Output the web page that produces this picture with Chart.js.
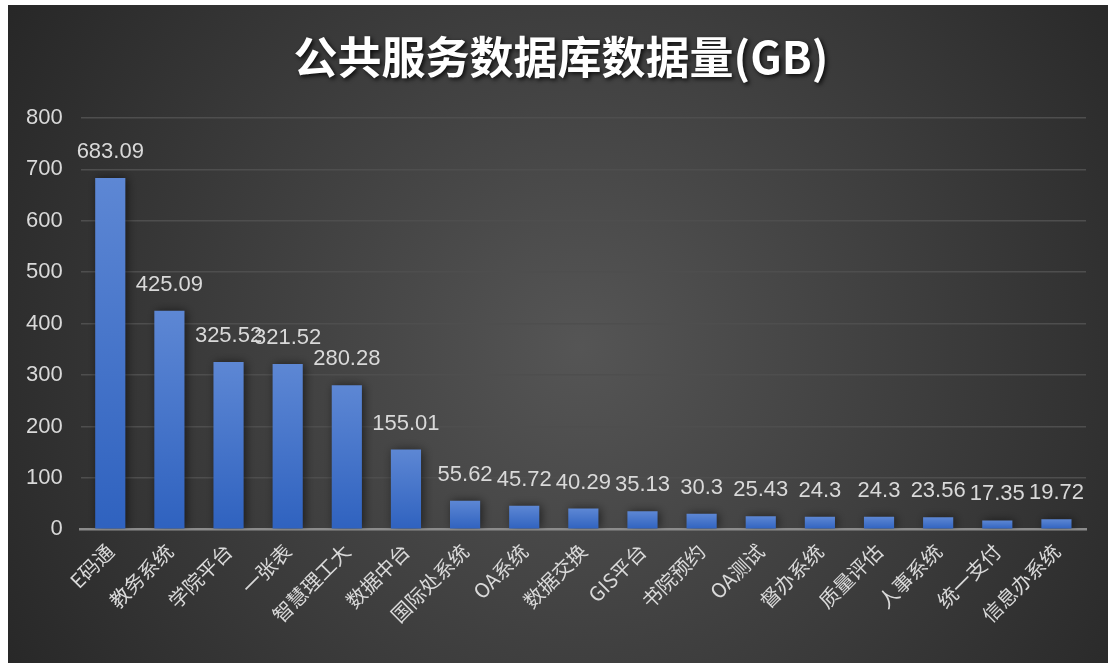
<!DOCTYPE html>
<html lang="zh">
<head>
    <meta charset="UTF-8">
    <title>公共服务数据库数据量(GB)</title>
    <script src="https://cdn.jsdelivr.net/npm/chart.js"></script>
    <style>
        html, body { margin: 0; padding: 0; background: #ffffff; }
        #chartBox {
            position: absolute;
            left: 8px;
            top: 5px;
            width: 1100px;
            height: 658px;
        }
    </style>
</head>
<body>
    <div id="chartBox">
        <canvas id="dbChart"></canvas>
    </div>

    <script>
        // data
        var categories = ['E码通', '教务系统', '学院平台', '一张表', '智慧理工大', '数据中台', '国际处系统', 'OA系统',
            '数据交换', 'GIS平台', '书院预约', 'OA测试', '督办系统', '质量评估', '人事系统', '统一支付', '信息办系统'];
        var sizes = [683.09, 425.09, 325.52, 321.52, 280.28, 155.01, 55.62, 45.72,
            40.29, 35.13, 30.3, 25.43, 24.3, 24.3, 23.56, 17.35, 19.72];
        var yTicks = [0, 100, 200, 300, 400, 500, 600, 700, 800];

        var titleText = '公共服务数据库数据量(GB)';
        var textColor = '#d9d9d9';

        // dark radial background + title with a shadow
        var decorPlugin = {
            id: 'decor',
            beforeDraw: function(chart) {
                var c = chart.ctx;
                var w = chart.width, h = chart.height;
                var g = c.createRadialGradient(w * 0.52, h * 0.52, 0, w * 0.52, h * 0.52, w * 0.62);
                g.addColorStop(0, '#555555');
                g.addColorStop(1, '#262626');
                c.save();
                c.fillStyle = g;
                c.fillRect(0, 0, w, h);
                c.restore();
            },
            afterDraw: function(chart) {
                var c = chart.ctx;
                c.save();
                c.font = 'bold 44px "Noto Sans CJK SC", sans-serif';
                c.textAlign = 'center';
                c.textBaseline = 'middle';
                c.shadowColor = 'rgba(0,0,0,0.8)';
                c.shadowBlur = 4;
                c.shadowOffsetX = 2;
                c.shadowOffsetY = 2;
                c.fillStyle = '#ffffff';
                c.fillText(titleText, chart.width / 2 + 3, 52);
                c.restore();
            }
        };

        // shadow behind the bars
        var shadowPlugin = {
            id: 'barShadow',
            beforeDatasetsDraw: function(chart) {
                var c = chart.ctx;
                c.save();
                c.shadowColor = 'rgba(0,0,0,0.55)';
                c.shadowBlur = 10;
                c.shadowOffsetX = 2;
                c.shadowOffsetY = 0;
            },
            afterDatasetsDraw: function(chart) {
                chart.ctx.restore();
            }
        };

        // value labels above each bar
        var valueLabels = {
            id: 'valueLabels',
            afterDatasetsDraw: function(chart) {
                var c = chart.ctx;
                var meta = chart.getDatasetMeta(0);
                c.save();
                c.font = '22px "Liberation Sans", Arial, sans-serif';
                c.fillStyle = textColor;
                c.textAlign = 'center';
                c.textBaseline = 'bottom';
                meta.data.forEach(function(bar, i) {
                    c.fillText(String(sizes[i]), bar.x, bar.y - 15);
                });
                c.restore();
            }
        };

        var ctx = document.getElementById('dbChart').getContext('2d');
        var dbChart = new Chart(ctx, {
            type: 'bar',
            data: {
                labels: categories,
                datasets: [{
                    label: '数据量(GB)',
                    data: sizes,
                    categoryPercentage: 1.0,
                    barPercentage: 0.51,
                    backgroundColor: function(context) {
                        var chart = context.chart;
                        if (!chart.chartArea || context.parsed == null) return '#4a78cc';
                        var yScale = chart.scales.y;
                        var top = yScale.getPixelForValue(context.parsed.y);
                        var bottom = yScale.getPixelForValue(0);
                        if (!isFinite(top) || bottom - top < 1) return '#4a78cc';
                        var g = chart.ctx.createLinearGradient(0, top, 0, bottom);
                        g.addColorStop(0, '#5d87d4');
                        g.addColorStop(1, '#2f62bf');
                        return g;
                    },
                    borderWidth: 0
                }]
            },
            options: {
                responsive: true,
                maintainAspectRatio: false,
                animation: false,
                layout: {
                    padding: { top: 113, right: 22, left: 0, bottom: 34 }
                },
                plugins: {
                    legend: { display: false },
                    title: { display: false },
                    tooltip: { enabled: false }
                },
                scales: {
                    x: {
                        grid: { display: false },
                        border: { color: '#8c8c8c', width: 2.5 },
                        ticks: {
                            color: textColor,
                            font: { size: 20, family: '"Noto Sans CJK SC", sans-serif' },
                            maxRotation: 45,
                            minRotation: 45,
                            autoSkip: false,
                            padding: 2
                        }
                    },
                    y: {
                        min: 0,
                        max: 800,
                        afterBuildTicks: function(axis) {
                            axis.ticks = yTicks.map(function(v) { return { value: v }; });
                        },
                        border: { display: false },
                        grid: {
                            color: function(context) {
                                return context.tick && context.tick.value === 0 ? 'rgba(0,0,0,0)' : '#4e4e4e';
                            },
                            lineWidth: 1.5,
                            drawTicks: false
                        },
                        ticks: {
                            color: textColor,
                            font: { size: 22, family: '"Liberation Sans", Arial, sans-serif' },
                            padding: 18
                        }
                    }
                }
            },
            plugins: [decorPlugin, shadowPlugin, valueLabels]
        });
    </script>
</body>
</html>
